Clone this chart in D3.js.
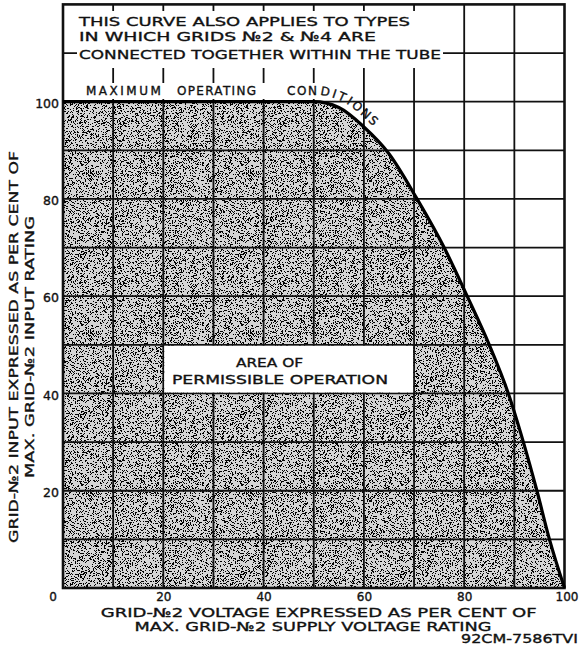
<!DOCTYPE html>
<html>
<head>
<meta charset="utf-8">
<script src="https://cdn.jsdelivr.net/npm/d3@7"></script>
<style>
  html, body { margin: 0; padding: 0; background: #fff; }
  svg { display: block; }
  text { font-family: "DejaVu Sans", sans-serif; fill: #111; }
  .ink { stroke: #111; stroke-width: 0.35; }
</style>
</head>
<body>
<svg id="chart" width="579" height="647"></svg>
<script>
// Rating curve: grid-No.2 input (% of max) vs grid-No.2 voltage (% of max supply)
const voltagePct = [0, 50, 55, 60, 65, 70.6, 76, 80.6, 85, 88.8, 91.8, 94.5, 97, 100];
const inputPct   = [100, 100, 98.8, 94.8, 89.3, 80, 70, 60, 50, 40, 30, 20, 10, 0];

const xTickLabels = [0, 20, 40, 60, 80, 100];
const yTickLabels = [20, 40, 60, 80, 100];
const xGrid = [10, 20, 30, 40, 50, 60, 70, 80, 90];
const yGrid = [10, 20, 30, 40, 50, 60, 70, 80, 90, 100, 110];

const noteLines = [
  "THIS CURVE ALSO APPLIES TO TYPES",
  "IN WHICH GRIDS №2 & №4 ARE",
  "CONNECTED TOGETHER WITHIN THE TUBE"
];
const curveWords = ["MAXIMUM", "OPERATING", "CONDITIONS"];
const areaLabel = ["AREA OF", "PERMISSIBLE OPERATION"];
const yTitle = ["GRID-№2 INPUT EXPRESSED AS PER CENT OF", "MAX. GRID-№2 INPUT RATING"];
const xTitle = ["GRID-№2 VOLTAGE EXPRESSED AS PER CENT OF", "MAX. GRID-№2 SUPPLY VOLTAGE RATING"];
const drawingNo = "92CM-7586TVI";

const data = voltagePct.map((v, i) => ({ v, p: inputPct[i] }));

const svg = d3.select("#chart");
const x = d3.scaleLinear().domain([0, 100]).range([63, 564.5]);
const y = d3.scaleLinear().domain([0, 120]).range([588, 4.4]);

// stipple texture for the permissible area
const defs = svg.append("defs");
const f = defs.append("filter").attr("id", "grain")
  .attr("x", 0).attr("y", 0).attr("width", "100%").attr("height", "100%");
f.append("feTurbulence").attr("type", "fractalNoise").attr("baseFrequency", 1.6)
  .attr("numOctaves", 2).attr("seed", 7).attr("result", "noise");
f.append("feColorMatrix").attr("in", "noise").attr("type", "matrix")
  .attr("values", "0 0 0 0 0  0 0 0 0 0  0 0 0 0 0  1 0 0 0 0").attr("result", "a");
const table = d3.range(50).map(i => (i >= 29 ? 1 : 0)).join(" ");
f.append("feComponentTransfer").attr("in", "a").attr("result", "dots")
  .append("feFuncA").attr("type", "discrete").attr("tableValues", table);
f.append("feComposite").attr("in", "dots").attr("in2", "SourceGraphic").attr("operator", "in");

const area = d3.area()
  .x(d => x(d.v)).y0(y(0)).y1(d => y(d.p))
  .curve(d3.curveMonotoneX);
const line = d3.line()
  .x(d => x(d.v)).y(d => y(d.p))
  .curve(d3.curveMonotoneX);

svg.append("path").attr("d", area(data)).attr("fill", "#d4d4d4");
svg.append("path").attr("d", area(data)).attr("fill", "#000").attr("filter", "url(#grain)");

// grid
const grid = svg.append("g").attr("stroke", "#111").attr("stroke-width", 1.8);
grid.selectAll("line.v").data(xGrid).join("line").attr("class", "v")
  .attr("x1", d => x(d)).attr("x2", d => x(d)).attr("y1", y(0)).attr("y2", y(120));
grid.selectAll("line.h").data(yGrid).join("line").attr("class", "h")
  .attr("x1", x(0)).attr("x2", x(100)).attr("y1", d => y(d)).attr("y2", d => y(d));

// white panels behind lettering
const white = svg.append("g").attr("fill", "#fff");
white.append("rect").attr("x", x(20) + 1).attr("y", y(50) + 1)
  .attr("width", x(70) - x(20) - 2).attr("height", y(40) - y(50) - 2);
white.append("rect").attr("x", x(0) + 1.5).attr("y", 11)
  .attr("width", 452 - x(0) - 1.5).attr("height", 36);
white.append("rect").attr("x", 77).attr("y", 47).attr("width", 366).attr("height", 21);
white.append("rect").attr("x", 82).attr("y", 83).attr("width", 242).attr("height", 16);

// frame
svg.append("rect").attr("x", x(0)).attr("y", y(120))
  .attr("width", x(100) - x(0)).attr("height", y(0) - y(120))
  .attr("fill", "none").attr("stroke", "#111").attr("stroke-width", 2.6);

// curve caption following the limit line, one word at a time
defs.append("path").attr("id", "limit").attr("d", line(data));
const wordStart = [86, 177, 287];
const wordSpacing = [2.5, 1.3, 1.6];
curveWords.forEach((w, i) => {
  svg.append("text").attr("class", "ink").attr("font-size", 12)
    .attr("letter-spacing", wordSpacing[i])
    .append("textPath").attr("href", "#limit").attr("startOffset", wordStart[i] - x(0))
    .append("tspan").attr("dy", -7).text(w);
});

// limiting curve
svg.append("path").attr("d", line(data))
  .attr("fill", "none").attr("stroke", "#000").attr("stroke-width", 3.2)
  .attr("stroke-linejoin", "round");

// axes (labels only)
const xAxis = d3.axisBottom(x).tickValues(xTickLabels).tickSize(0).tickPadding(0)
  .tickFormat(d => d === 0 ? "" : d);
const gx = svg.append("g").attr("transform", `translate(0,${y(0)})`).call(xAxis);
gx.select(".domain").remove();
gx.selectAll("text").attr("class", "ink").attr("y", 12.5).attr("dy", 0)
  .attr("font-size", 12).attr("font-family", "DejaVu Sans").attr("fill", "#111");
gx.selectAll(".tick").filter(d => d === 100).select("text").attr("x", 2);

const yAxis = d3.axisLeft(y).tickValues(yTickLabels).tickSize(0).tickPadding(4);
const gy = svg.append("g").attr("transform", `translate(${x(0)},0)`).call(yAxis);
gy.select(".domain").remove();
gy.selectAll("text").attr("class", "ink").attr("dy", "0.45em")
  .attr("font-size", 12.5).attr("font-family", "DejaVu Sans").attr("fill", "#111");

svg.append("text").attr("class", "ink").attr("x", x(0) - 10).attr("y", y(0) + 12.5)
  .attr("text-anchor", "middle").attr("font-size", 12).text("0");

// helper for fixed-width lettering
function letter(sel, t, w, size) {
  return sel.append("text").attr("class", "ink").attr("font-size", size)
    .attr("textLength", w).attr("lengthAdjust", "spacingAndGlyphs").text(t);
}

// note block
const noteY = [26, 41, 58.5];
const noteW = [331, 297, 362];
noteLines.forEach((t, i) => letter(svg, t, noteW[i], 13).attr("x", 79).attr("y", noteY[i]));

// area caption
letter(svg, areaLabel[0], 67, 12.5).attr("x", 269.5).attr("y", 367).attr("text-anchor", "middle");
letter(svg, areaLabel[1], 216, 12.5).attr("x", 280).attr("y", 384).attr("text-anchor", "middle");

// axis titles
const yt = svg.append("g").attr("transform", "translate(0,347) rotate(-90)");
letter(yt, yTitle[0], 392, 13).attr("x", 0).attr("y", 18).attr("text-anchor", "middle");
letter(yt, yTitle[1], 262, 13).attr("x", 0).attr("y", 33.5).attr("text-anchor", "middle");

letter(svg, xTitle[0], 436, 12.5).attr("x", 318.7).attr("y", 616.5).attr("text-anchor", "middle");
letter(svg, xTitle[1], 357, 12.5).attr("x", 313).attr("y", 631).attr("text-anchor", "middle");
letter(svg, drawingNo, 117, 12.5).attr("x", 578).attr("y", 643).attr("text-anchor", "end");
</script>
</body>
</html>
